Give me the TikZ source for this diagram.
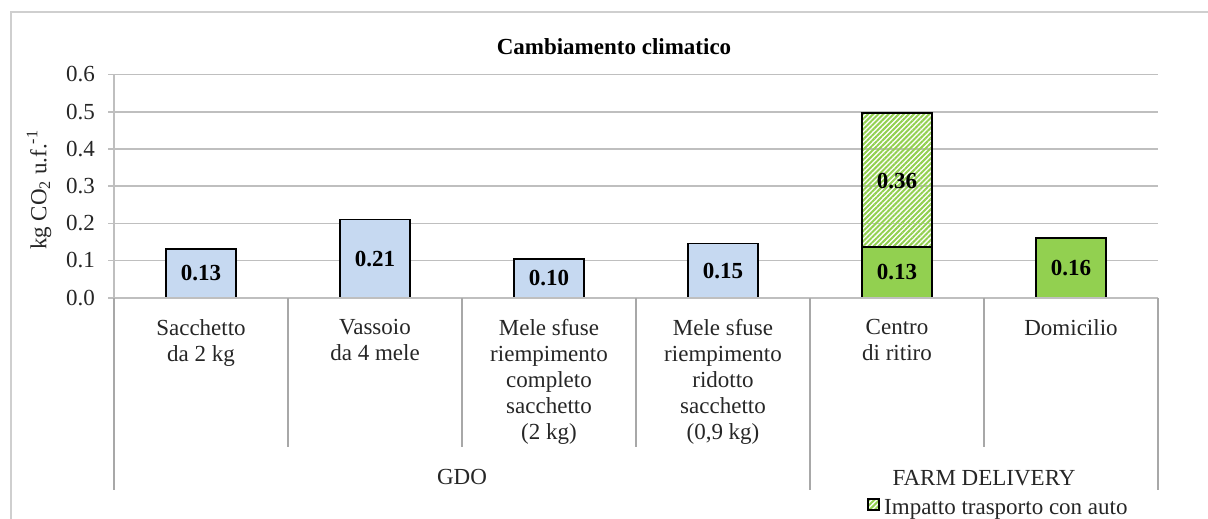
\documentclass[tikz,border=0pt]{standalone}
\usepackage{fontspec}
\setmainfont{Liberation Serif}
\usetikzlibrary{patterns.meta}
\definecolor{gridc}{HTML}{BFBFBF}
\definecolor{sepc}{HTML}{A8A8A8}
\definecolor{framec}{HTML}{CFCFCF}
\definecolor{bluebar}{HTML}{C6D9F1}
\definecolor{greenbar}{HTML}{92D050}
\definecolor{hatchc}{HTML}{92D050}
\definecolor{txt}{HTML}{262626}
\begin{document}
\begin{tikzpicture}[x=1pt,y=-1pt,
  gridline/.style={draw=gridc, line width=1.6pt},
  sepline/.style={draw=sepc, line width=1.8pt},
  barblue/.style={fill=bluebar, draw=black, line width=1.8pt},
  bargreen/.style={fill=greenbar, draw=black, line width=1.8pt},
  barhatch/.style={pattern={Lines[angle=45,distance=3.6pt,line width=2pt]}, pattern color=hatchc, draw=black, line width=1.8pt},
  vlabel/.style={font=\fontsize{23}{26}\selectfont\bfseries, text=black, inner sep=0},
  ticklab/.style={font=\fontsize{23}{26}\selectfont, text=txt, anchor=east, inner sep=0},
  catlab/.style={font=\fontsize{23}{26}\selectfont, text=txt, align=center, anchor=north, inner sep=0},
  grplab/.style={font=\fontsize{23}{26}\selectfont, text=txt, anchor=base, inner sep=0},
]
\useasboundingbox (0,0) rectangle (1208,519);
\fill[white] (0,0) rectangle (1208,519);
% outer frame
\draw[framec, line width=1.5pt] (11,519) -- (11,12) -- (1208,12);
% title
\node[font=\fontsize{23}{26}\selectfont\bfseries, text=black, anchor=base, inner sep=0] (title) at (614,55) {Cambiamento climatico};
% gridlines
\foreach \v/\yy in {1/260.5,2/223.3,3/186.1,4/148.9,5/111.7,6/74.5}{
  \draw[gridline] (108,\yy) -- (1158,\yy);
}
% tick labels
\node[ticklab] (t0) at (95,297.7) {0.0};
\node[ticklab] (t1) at (95,260.5) {0.1};
\node[ticklab] (t2) at (95,223.3) {0.2};
\node[ticklab] (t3) at (95,186.1) {0.3};
\node[ticklab] (t4) at (95,148.9) {0.4};
\node[ticklab] (t5) at (95,111.7) {0.5};
\node[ticklab] (t6) at (95,74.5) {0.6};
% y label
\node[font=\fontsize{23}{26}\selectfont, text=txt, rotate=90, inner sep=0] (ylab) at (39,190) {kg CO\textsubscript{2} u.f.\textsuperscript{-1}};
% bars
\path[barblue] (166,297.7) rectangle (236,249);
\path[barblue] (340,297.7) rectangle (410,219.5);
\path[barblue] (514,297.7) rectangle (584,259);
\path[barblue] (688,297.7) rectangle (758,243.5);
\path[bargreen] (862,297.7) rectangle (932,246.7);
\path[barhatch] (862,246.7) rectangle (932,112.7);
\path[bargreen] (1036,297.7) rectangle (1106,238);
% value labels
\node[vlabel] (v1) at (201,273.5) {0.13};
\node[vlabel] (v2) at (375,258.6) {0.21};
\node[vlabel] (v3) at (549,278.4) {0.10};
\node[vlabel] (v4) at (723,270.6) {0.15};
\node[vlabel] (v5) at (897,272.2) {0.13};
\node[vlabel] (v6) at (897,180.7) {0.36};
\node[vlabel] (v7) at (1071,267.9) {0.16};
% axes
\draw[gridline] (114,74.5) -- (114,297.7);
\draw[gridline] (108,297.7) -- (1158,297.7);
% separators
\draw[sepline] (114,297.7) -- (114,490);
\draw[sepline] (288,297.7) -- (288,447);
\draw[sepline] (462,297.7) -- (462,447);
\draw[sepline] (636,297.7) -- (636,447);
\draw[sepline] (810,297.7) -- (810,490);
\draw[sepline] (984,297.7) -- (984,447);
\draw[sepline] (1158,297.7) -- (1158,490);
% category labels
\node[catlab] (c1) at (201,319.3) {Sacchetto\\da 2 kg};
\node[catlab] (c2) at (375,319.3) {Vassoio\\da 4 mele};
\node[catlab] (c3) at (549,319.3) {Mele sfuse\\riempimento\\completo\\sacchetto\\(2 kg)};
\node[catlab] (c4) at (723,319.3) {Mele sfuse\\riempimento\\ridotto\\sacchetto\\(0,9 kg)};
\node[catlab] (c5) at (897,319.3) {Centro\\di ritiro};
\node[catlab] (c6) at (1071,319.3) {Domicilio};
% group labels
\node[grplab] (g1) at (462,484) {GDO};
\node[grplab] (g2) at (984,485) {FARM DELIVERY};
% legend
\path[barhatch, line width=1.5pt] (868,499) rectangle (879,510);
\node[grplab, anchor=base west] (leg) at (884,514) {Impatto trasporto con auto};
\end{tikzpicture}
\end{document}
